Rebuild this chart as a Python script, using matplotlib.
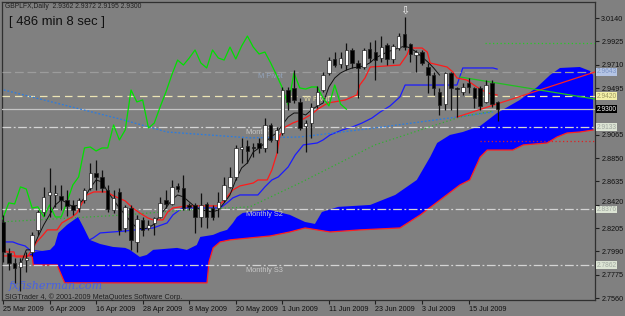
import numpy as np
import matplotlib.pyplot as plt
from matplotlib.transforms import offset_copy

# daily candles, bar 0 = 25 Mar 2009
opens = [2.8261, 2.7976, 2.7884, 2.7847, 2.7911, 2.7985, 2.8188, 2.8353, 2.8510, 2.8510,
         2.8501, 2.8464, 2.8418, 2.8390, 2.8464, 2.8575, 2.8713, 2.8676, 2.8556, 2.8372,
         2.8538, 2.8206, 2.8390, 2.8077, 2.8280, 2.8206, 2.8252, 2.8307, 2.8464, 2.8427,
         2.8593, 2.8575, 2.8418, 2.8418, 2.8307, 2.8427, 2.8390, 2.8390, 2.8464, 2.8584,
         2.8676, 2.8934, 2.8961, 2.8952, 2.8989, 2.8943, 2.9155, 2.9017, 2.9081, 2.9477,
         2.9496, 2.9367, 2.9146, 2.9173, 2.9339, 2.9477, 2.9634, 2.9763, 2.9717, 2.9707,
         2.9846, 2.9726, 2.9689, 2.9855, 2.9827, 2.9772, 2.9892, 2.9763, 2.9864, 2.9993,
         2.9901, 2.9800, 2.9827, 2.9689, 2.9615, 2.9459, 2.9348, 2.9634, 2.9496, 2.9459,
         2.9542, 2.9496, 2.9496, 2.9367, 2.9542, 2.9362]
highs = [2.8326, 2.8022, 2.7930, 2.7930, 2.7985, 2.8169, 2.8372, 2.8584, 2.8759, 2.8602,
         2.8602, 2.8556, 2.8464, 2.8483, 2.8575, 2.8805, 2.8832, 2.8740, 2.8602, 2.8556,
         2.8575, 2.8418, 2.8418, 2.8326, 2.8307, 2.8280, 2.8307, 2.8492, 2.8556, 2.8648,
         2.8620, 2.8694, 2.8437, 2.8437, 2.8529, 2.8446, 2.8418, 2.8538, 2.8676, 2.8768,
         2.8971, 2.9036, 2.9017, 2.8989, 2.9036, 2.9219, 2.9173, 2.9136, 2.9505, 2.9505,
         2.9661, 2.9403, 2.9201, 2.9357, 2.9514, 2.9643, 2.9781, 2.9827, 2.9827, 2.9910,
         2.9864, 2.9753, 2.9864, 2.9919, 2.9938, 2.9974, 2.9910, 2.9901, 3.0002, 3.0149,
         2.9910, 2.9846, 2.9846, 2.9726, 2.9643, 2.9496, 2.9643, 2.9643, 2.9505, 2.9542,
         2.9588, 2.9505, 2.9514, 2.9569, 2.9569, 2.9372]
lows = [2.7893, 2.7819, 2.7700, 2.7626, 2.7801, 2.7948, 2.8142, 2.8317, 2.8307, 2.8400,
        2.8372, 2.8317, 2.8326, 2.8353, 2.8437, 2.8556, 2.8556, 2.8538, 2.8353, 2.8344,
        2.8142, 2.8169, 2.8004, 2.7985, 2.8132, 2.8188, 2.8142, 2.8298, 2.8390, 2.8418,
        2.8538, 2.8372, 2.8372, 2.8160, 2.8215, 2.8206, 2.8280, 2.8307, 2.8446, 2.8575,
        2.8648, 2.8805, 2.8805, 2.8860, 2.8897, 2.8906, 2.8998, 2.8897, 2.9063, 2.9293,
        2.9357, 2.9109, 2.8906, 2.9036, 2.9311, 2.9459, 2.9615, 2.9689, 2.9680, 2.9661,
        2.9680, 2.9403, 2.9670, 2.9735, 2.9569, 2.9735, 2.9707, 2.9726, 2.9846, 2.9846,
        2.9735, 2.9643, 2.9707, 2.9450, 2.9431, 2.9247, 2.9293, 2.9293, 2.9228, 2.9431,
        2.9450, 2.9311, 2.9293, 2.9357, 2.9321, 2.9195]
closes = [2.7985, 2.7884, 2.7838, 2.7893, 2.7930, 2.8142, 2.8353, 2.8492, 2.8538, 2.8529,
          2.8464, 2.8409, 2.8372, 2.8464, 2.8556, 2.8713, 2.8676, 2.8575, 2.8381, 2.8483,
          2.8188, 2.8400, 2.8096, 2.8289, 2.8188, 2.8234, 2.8298, 2.8437, 2.8427, 2.8584,
          2.8565, 2.8390, 2.8400, 2.8307, 2.8418, 2.8307, 2.8307, 2.8446, 2.8602, 2.8676,
          2.8943, 2.8952, 2.8915, 2.8943, 2.8943, 2.9155, 2.9017, 2.9109, 2.9477, 2.9367,
          2.9385, 2.9127, 2.9173, 2.9321, 2.9459, 2.9615, 2.9753, 2.9707, 2.9772, 2.9846,
          2.9726, 2.9680, 2.9846, 2.9772, 2.9753, 2.9873, 2.9763, 2.9882, 2.9974, 2.9873,
          2.9809, 2.9827, 2.9726, 2.9615, 2.9496, 2.9339, 2.9634, 2.9496, 2.9486, 2.9505,
          2.9505, 2.9403, 2.9330, 2.9523, 2.9348, 2.9300]

date_ticks = [0, 8, 16, 24, 32, 40, 48, 56, 64, 72, 80]
date_labels = ["25 Mar 2009", "6 Apr 2009", "16 Apr 2009", "28 Apr 2009", "8 May 2009",
               "20 May 2009", "1 Jun 2009", "11 Jun 2009", "23 Jun 2009", "3 Jul 2009",
               "15 Jul 2009"]
price_ticks = [3.0140, 2.9925, 2.9710, 2.9495, 2.9280, 2.9065, 2.8850, 2.8635,
               2.8420, 2.8205, 2.7990, 2.7775, 2.7560]
hidden_ticks = [2.9280]  # sits under the current price box
nudged_ticks = [2.8420]  # pushed up a little, clear of the S2 box

# ichimoku lines, read as (bar, price) vertices
tenkan_x = [-0.5, 0.2, 0.5, 1.9, 2.1, 4.1, 5.0, 5.8, 6.9, 7.6, 9.3, 10.1, 11.0, 11.9, 12.7,
            13.6, 14.4, 15.6, 17.9, 18.7, 19.8, 21.0, 22.3, 23.5, 24.9, 25.8, 27.5, 28.3,
            29.2, 31.6, 36.8, 37.6, 38.5, 39.5, 40.7, 43.0, 43.8, 45.4, 46.2, 47.1, 47.6,
            48.5, 49.8, 51.6, 53.1, 54.1, 55.8, 58.8, 60.0, 60.8, 61.3, 62.2, 63.1, 68.2,
            69.4, 69.9, 72.0, 72.9, 73.4, 76.3, 77.3, 78.0, 79.7, 81.4, 83.2, 84.9]
tenkan_y = [2.8067, 2.8067, 2.7985, 2.7985, 2.7939, 2.7939, 2.8004, 2.8077, 2.8142, 2.8188,
            2.8188, 2.8252, 2.8280, 2.8307, 2.8344, 2.8437, 2.8510, 2.8538, 2.8538, 2.8510,
            2.8483, 2.8455, 2.8390, 2.8344, 2.8298, 2.8280, 2.8280, 2.8353, 2.8390, 2.8409,
            2.8409, 2.8437, 2.8492, 2.8556, 2.8593, 2.8620, 2.8648, 2.8648, 2.8740, 2.8897,
            2.9063, 2.9136, 2.9173, 2.9210, 2.9256, 2.9302, 2.9357, 2.9385, 2.9413, 2.9431,
            2.9523, 2.9588, 2.9689, 2.9707, 2.9800, 2.9864, 2.9864, 2.9827, 2.9726, 2.9689,
            2.9643, 2.9588, 2.9569, 2.9505, 2.9450, 2.9431]
kijun_x = [-0.5, 1.7, 2.6, 3.8, 4.6, 7.2, 9.8, 13.2, 15.5, 16.7, 21.0, 25.8, 28.2, 29.2,
           30.8, 37.3, 38.5, 39.5, 40.7, 43.8, 45.0, 46.2, 47.3, 49.0, 50.2, 51.6, 54.0,
           55.0, 56.2, 58.3, 60.0, 61.7, 63.4, 64.8, 66.5, 68.2, 69.1, 78.0, 79.0, 84.2, 84.9]
kijun_y = [2.8077, 2.8077, 2.8058, 2.8040, 2.8004, 2.7985, 2.8004, 2.8049, 2.8114, 2.8160,
           2.8178, 2.8206, 2.8252, 2.8326, 2.8390, 2.8390, 2.8437, 2.8483, 2.8510, 2.8510,
           2.8584, 2.8648, 2.8676, 2.8768, 2.8878, 2.8971, 2.8989, 2.9017, 2.9063, 2.9109,
           2.9136, 2.9173, 2.9219, 2.9274, 2.9330, 2.9413, 2.9523, 2.9523, 2.9680, 2.9680,
           2.9670]
cloud_top_x = [4.1, 5.5, 8.1, 8.9, 9.5, 11.0, 12.9, 13.8, 14.9, 16.7, 18.9, 21.0, 21.8, 23.5,
               24.7, 25.8, 29.9, 31.6, 33.3, 33.9, 36.1, 37.3, 38.5, 39.5, 40.2, 41.2, 42.4,
               45.9, 49.3, 51.9, 53.6, 54.8, 57.6, 63.1, 67.4, 71.1, 73.4, 74.6, 76.8, 79.0,
               82.0, 84.9, 88.8, 91.8, 94.0, 95.7, 99.1, 100.9, 101.4]
cloud_top_y = [2.7948, 2.7985, 2.8004, 2.8049, 2.8160, 2.8234, 2.8307, 2.8215, 2.8096, 2.8058,
               2.8031, 2.8022, 2.8004, 2.7939, 2.7957, 2.8004, 2.8022, 2.8004, 2.8049, 2.8123,
               2.8142, 2.8169, 2.8188, 2.8252, 2.8307, 2.8344, 2.8353, 2.8372, 2.8326, 2.8261,
               2.8243, 2.8353, 2.8400, 2.8418, 2.8510, 2.8648, 2.8860, 2.8989, 2.9063, 2.9090,
               2.9146, 2.9265, 2.9385, 2.9505, 2.9615, 2.9680, 2.9689, 2.9652, 2.9615]
span_b_x = [-0.5, 5.0, 5.2, 9.3, 10.6, 35.05, 35.4, 36.1, 37.3, 39.0, 42.4, 45.9, 49.3, 51.9,
            56.2, 61.3, 68.2, 71.7, 75.1, 78.5, 80.2, 82.0, 83.2, 87.6, 89.4, 93.5, 95.2,
            96.9, 99.1, 101.4]
span_b_y = [2.7948, 2.7948, 2.7865, 2.7865, 2.7700, 2.7700, 2.7893, 2.8022, 2.8077, 2.8096,
            2.8114, 2.8132, 2.8169, 2.8206, 2.8169, 2.8188, 2.8206, 2.8326, 2.8464, 2.8602,
            2.8648, 2.8860, 2.8924, 2.8924, 2.8971, 2.8989, 2.9044, 2.9081, 2.9090, 2.9109]

# other overlays
ma_x = list(range(3, 76))
ma_y = [2.7865, 2.8004, 2.8004, 2.8123, 2.8234, 2.8326, 2.8418, 2.8464, 2.8437, 2.8400,
        2.8418, 2.8483, 2.8575, 2.8648, 2.8630, 2.8538, 2.8464, 2.8390, 2.8326, 2.8261,
        2.8206, 2.8197, 2.8206, 2.8243, 2.8326, 2.8390, 2.8464, 2.8510, 2.8492, 2.8446,
        2.8400, 2.8372, 2.8363, 2.8353, 2.8372, 2.8437, 2.8510, 2.8648, 2.8759, 2.8805,
        2.8906, 2.8943, 2.8989, 2.9044, 2.9081, 2.9155, 2.9228, 2.9265, 2.9265, 2.9247,
        2.9293, 2.9330, 2.9357, 2.9505, 2.9588, 2.9634, 2.9661, 2.9680, 2.9689, 2.9698,
        2.9726, 2.9772, 2.9800, 2.9827, 2.9846, 2.9864, 2.9882, 2.9864, 2.9827, 2.9781,
        2.9735, 2.9680, 2.9615]
blue_ma_x = [-0.5, 20.1, 28.2, 42.4, 51.0, 63.9, 78.0, 84.2]
blue_ma_y = [2.9486, 2.9210, 2.9090, 2.9036, 2.9044, 2.9127, 2.9228, 2.9274]
green_ma_x = [-0.5, 21.0, 31.6, 42.4, 51.0, 63.9, 78.5, 84.2]
green_ma_y = [2.8261, 2.8326, 2.8372, 2.8400, 2.8620, 2.8971, 2.9228, 2.9283]
red_trend = ([78.0, 101.7], [2.9228, 2.9643])
green_trend = ([78.5, 101.7], [2.9597, 2.9394])

# horizontal levels: price, colour, dash pattern, right label, label face, label text colour
levels = [
    (2.9643, '#9c9c9c', (7, 3), '2.9643', '#b4c4e4', '#7c94c4'),
    (2.9420, '#ece4b4', (6, 4), '2.9420', '#f4f0a8', '#9c9860'),
    (2.9300, '#c4c4c4', None, '2.9300', '#000000', '#ffffff'),
    (2.9133, '#d4d4d4', (7, 2, 1.5, 2), '2.9133', '#dce4d4', '#a0a8a0'),
    (2.8376, '#d4d4d4', (7, 2, 1.5, 2), '2.8376', '#dce4d4', '#a0a8a0'),
    (2.7862, '#d4d4d4', (7, 2, 1.5, 2), '2.7862', '#dce4d4', '#a0a8a0'),
]
level_texts = [(48.0, 2.9597, 'M Pivot', '#93a4bc'),
               (56.0, 2.9385, 'W Pivot', '#e4dca4'),
               (48.1, 2.9090, 'Monthly S1', '#c8c8c8'),
               (48.1, 2.8330, 'Monthly S2', '#c8c8c8'),
               (48.1, 2.7810, 'Monthly S3', '#c8c8c8')]

bg = '#808080'
fig = plt.figure(figsize=(6.25, 3.16), dpi=100, facecolor=bg)
ax = fig.add_axes([2 / 625, 16 / 316, 593 / 625, 298 / 316], facecolor=bg)
ax.set_xlim(-0.17, 101.72)
ax.set_ylim(2.7542, 3.0288)

# cloud
ax.fill(np.r_[cloud_top_x, span_b_x[::-1]], np.r_[cloud_top_y, span_b_y[::-1]],
        color='#0000ff', lw=0, zorder=2)
ax.plot(span_b_x, span_b_y, color='#ff2020', lw=0.9, zorder=2.2)
ax.plot(kijun_x, kijun_y, color='#1a1aff', lw=0.9, zorder=1.5)

for price, col, dash, lab, fc, tc in levels:
    line = ax.axhline(price, color=col, lw=0.9, zorder=3)
    if dash:
        line.set_dashes(dash)
    ax.annotate(lab, xy=(1, price), xycoords=('axes fraction', 'data'),
                xytext=(1.2, 0), textcoords='offset points', va='center', ha='left',
                fontsize=4.8, family='Liberation Sans', color=tc, annotation_clip=False,
                bbox=dict(boxstyle='square,pad=0.06', fc=fc, ec='none'))
for x, y, t, c in level_texts:
    ax.text(x, y, t, ha='right', va='center', fontsize=5.3, family='Liberation Sans',
            color=c, zorder=3)

ax.plot([82.8, 101.7], [2.9910, 2.9910], color='#28c828', lw=0.9, ls=(0, (1, 2)), zorder=3)
ax.plot([82.0, 101.7], [2.9008, 2.9008], color='#e02020', lw=0.9, ls=(0, (1, 2)), zorder=3)
ax.plot(blue_ma_x, blue_ma_y, color='#2a7ce0', lw=0.9, ls=(0, (1.5, 1.5)), zorder=3)
ax.plot(green_ma_x, green_ma_y, color='#30b030', lw=0.9, ls=(0, (1, 2)), zorder=3)
ax.plot(*red_trend, color='#ff2020', lw=0.9, zorder=3.5)
ax.plot(*green_trend, color='#20c020', lw=0.9, zorder=3.5)

ax.plot(tenkan_x, tenkan_y, color='#ff1a1a', lw=0.9, zorder=3.6)
ax.plot(ma_x, ma_y, color='#101010', lw=0.7, zorder=3.6)

# chikou span = close shifted 26 bars back
bars = np.arange(len(closes))
ax.plot(bars - 26, closes, color='#00e000', lw=0.9, zorder=3.7)

# candles
o = np.array(opens); c = np.array(closes)
ax.vlines(bars, lows, highs, color='#101010', lw=0.9, zorder=4)
up = c >= o
ax.bar(bars[up], c[up] - o[up], bottom=o[up], width=0.6, color='white',
       edgecolor='#202020', linewidth=0.5, zorder=5)
ax.bar(bars[~up], o[~up] - c[~up], bottom=c[~up], width=0.6, color='black',
       edgecolor='#202020', linewidth=0.5, zorder=5)

# fractal arrow above the top
ax.text(69, 3.0209, '\u21e9', ha='center', va='center', fontsize=8, color='#f0f0f0',
        family='DejaVu Sans', zorder=6)

# axes
ax.yaxis.tick_right()
ax.set_yticks(price_ticks)
ax.set_yticklabels(['' if p in hidden_ticks else f'{p:.4f}' for p in price_ticks])
ax.set_xticks(date_ticks)
ax.set_xticklabels(date_labels, ha='left')
ax.tick_params(axis='both', length=3, width=0.8, color='#202020', labelsize=5.2,
               labelcolor='#101010', pad=1.5)
for lab in ax.get_xticklabels() + ax.get_yticklabels():
    lab.set_family('Liberation Sans')
for p, lab in zip(price_ticks, ax.get_yticklabels()):
    if p in nudged_ticks:
        lab.set_transform(offset_copy(lab.get_transform(), fig=fig, y=3.5, units='dots'))
for s in ax.spines.values():
    s.set_color('#303030')
    s.set_linewidth(0.9)

# texts
fig.text(5 / 625, 1 - 7 / 316, 'GBPLFX,Daily  2.9362 2.9372 2.9195 2.9300', fontsize=4.9,
         family='Liberation Sans', color='#202020', va='center')
fig.text(9 / 625, 1 - 21.5 / 316, '[ 486 min 8 sec ]', fontsize=9.4,
         family='Liberation Sans', color='#101010', va='center')
ax.text(1.0, 2.7672, 'fxfisherman.com', fontsize=8, family='DejaVu Serif', style='italic',
        color='#3858ff', alpha=0.8, va='center', zorder=2.6)
fig.text(5 / 625, 1 - 297 / 316, 'SIGTrader 4, \u00a9 2001-2009 MetaQuotes Software Corp.',
         fontsize=5.2, family='Liberation Sans', color='#202020', va='center')

fig.savefig('out.png', dpi=100, facecolor=bg)
